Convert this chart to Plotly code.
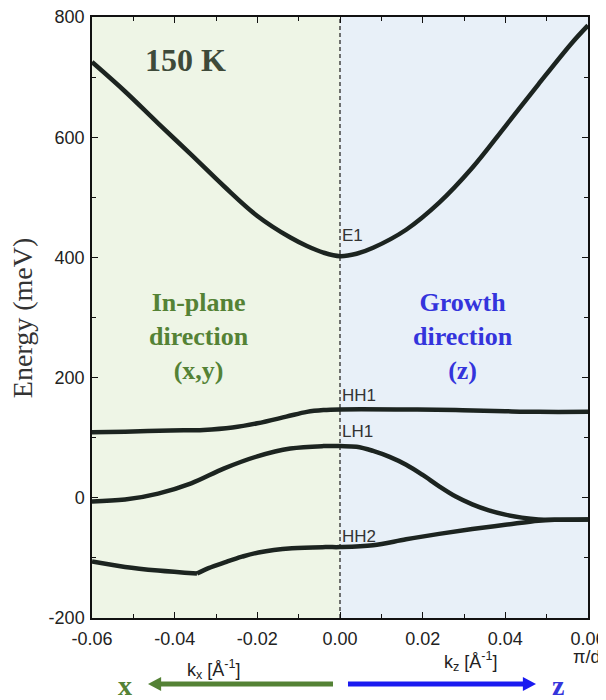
import plotly.graph_objects as go

# ---- data ----
E1_k = [-0.060, -0.052, -0.044, -0.036, -0.028, -0.020, -0.012, -0.008, -0.004, 0.0,
        0.004, 0.008, 0.016, 0.024, 0.032, 0.040, 0.048, 0.056, 0.060]
E1_E = [725, 676, 623, 571, 518, 469, 433, 419, 408, 402,
        406, 416, 446, 491, 549, 618, 688, 756, 786]

HH1_k = [-0.060, -0.052, -0.041, -0.033, -0.026, -0.020, -0.013, -0.008, -0.004, 0.0,
         0.014, 0.028, 0.040, 0.048, 0.060]
HH1_E = [109, 110, 112, 113, 117, 124, 135, 143, 146, 147,
         147, 146, 144, 143, 143]

LH1_k = [-0.060, -0.052, -0.044, -0.036, -0.028, -0.020, -0.012, -0.004, 0.0,
         0.004, 0.008, 0.012, 0.016, 0.020, 0.024, 0.028, 0.032, 0.036, 0.040,
         0.044, 0.048, 0.052, 0.060]
LH1_E = [-6, -3, 7, 24, 49, 69, 82, 86, 86,
         85, 78, 68, 55, 38, 19, 2, -11, -21, -28,
         -33, -36, -36.5, -36]

HH2_k = [-0.060, -0.052, -0.044, -0.0346, -0.0318, -0.0277, -0.0237, -0.0197, -0.0116,
         -0.0035, 0.0, 0.008, 0.016, 0.024, 0.032, 0.040, 0.048, 0.052, 0.060]
HH2_E = [-106, -115, -121, -126, -117, -107, -98, -91, -84,
         -82, -82, -79, -69, -60, -52, -45, -38, -36.5, -36]

x_tickvals = [-0.06, -0.04, -0.02, 0.0, 0.02, 0.04, 0.06]
x_ticktext = ["-0.06", "-0.04", "-0.02", "0.00", "0.02", "0.04", "0.06"]
y_tickvals = [-200, 0, 200, 400, 600, 800]
y_ticktext = ["-200", "0", "200", "400", "600", "800"]

band_labels = [("E1", 436), ("HH1", 171), ("LH1", 110), ("HH2", -64)]

# ---- styles ----
LINE = "#1c2420"
GREEN = "#548235"
BLUE = "#3434dc"
SANS = "Liberation Sans, Arial, sans-serif"
SERIF = "Liberation Serif, Times New Roman, serif"

fig = go.Figure()

def add_band(k, e):
    fig.add_trace(go.Scatter(x=k, y=e, mode="lines",
                             line=dict(color=LINE, width=4.5, shape="spline", smoothing=1.0),
                             showlegend=False, hoverinfo="skip"))

add_band(E1_k, E1_E)
add_band(HH1_k, HH1_E)
add_band(LH1_k, LH1_E)
kink = HH2_E.index(min(HH2_E))
add_band(HH2_k[:kink + 1], HH2_E[:kink + 1])
add_band(HH2_k[kink:], HH2_E[kink:])

# empty trace that only creates the mirrored (top/right) frame axes
fig.add_trace(go.Scatter(x=[None], y=[None], xaxis="x2", yaxis="y2",
                         showlegend=False, hoverinfo="skip"))

shapes = [
    dict(type="rect", xref="x", yref="paper", x0=-0.06, x1=0.0, y0=0, y1=1,
         fillcolor="#eef5e6", line=dict(width=0), layer="below"),
    dict(type="rect", xref="x", yref="paper", x0=0.0, x1=0.06, y0=0, y1=1,
         fillcolor="#e8f0f8", line=dict(width=0), layer="below"),
    dict(type="line", xref="x", yref="paper", x0=0, x1=0, y0=0, y1=1,
         line=dict(color="#444444", width=1.5, dash="4px,3px"), layer="below"),
]

# arrows below the axis (paper coordinates)
ya = -0.1098
hh = 0.0118
hl = 0.0265
shapes += [
    dict(type="line", xref="paper", yref="paper", x0=0.4859, x1=0.1129 + hl * 0.9, y0=ya, y1=ya,
         line=dict(color=GREEN, width=5)),
    dict(type="path", xref="paper", yref="paper",
         path=f"M {0.1129} {ya} L {0.1129 + hl} {ya + hh} L {0.1129 + hl} {ya - hh} Z",
         fillcolor=GREEN, line=dict(width=0)),
    dict(type="line", xref="paper", yref="paper", x0=0.5161, x1=0.8952 - hl * 0.9, y0=ya, y1=ya,
         line=dict(color="#1a1af0", width=5)),
    dict(type="path", xref="paper", yref="paper",
         path=f"M {0.8952} {ya} L {0.8952 - hl} {ya + hh} L {0.8952 - hl} {ya - hh} Z",
         fillcolor="#1a1af0", line=dict(width=0)),
]

ann = []
for name, e in band_labels:
    ann.append(dict(x=0.0001, y=e, xref="x", yref="y", text=name, showarrow=False,
                    xanchor="left", yanchor="middle",
                    font=dict(family=SANS, size=17, color="#333333")))

def centered(**kw):
    d = dict(showarrow=False, xanchor="center", yanchor="middle")
    d.update(kw)
    return d

ann += [
    centered(x=-0.0373, y=728, xref="x", yref="y", text="<b>150 K</b>",
             font=dict(family=SERIF, size=32, color="#3e4a3a")),
    centered(x=-0.0341, y=269, xref="x", yref="y", text="<b>In-plane<br>direction<br>(x,y)</b>",
             font=dict(family=SERIF, size=26, color=GREEN)),
    centered(x=0.0298, y=269, xref="x", yref="y", text="<b>Growth<br>direction<br>(z)</b>",
             font=dict(family=SERIF, size=26, color=BLUE)),
    centered(x=-0.141, y=0.499, xref="paper", yref="paper", text="Energy (meV)", textangle=-90,
             font=dict(family=SERIF, size=28, color="#333333")),
    centered(x=0.997, y=-0.065, xref="paper", yref="paper", text="π/d",
             font=dict(family=SANS, size=18, color="#222222")),
    centered(x=0.246, y=-0.0865, xref="paper", yref="paper",
             text="k<sub>x</sub> [Å<sup>-1</sup>]",
             font=dict(family=SANS, size=18, color="#222222")),
    centered(x=0.764, y=-0.0732, xref="paper", yref="paper",
             text="k<sub>z</sub> [Å<sup>-1</sup>]",
             font=dict(family=SANS, size=18, color="#222222")),
    centered(x=0.0665, y=-0.1115, xref="paper", yref="paper", text="<b>x</b>",
             font=dict(family=SERIF, size=28, color=GREEN)),
    centered(x=0.9395, y=-0.1115, xref="paper", yref="paper", text="<b>z</b>",
             font=dict(family=SERIF, size=28, color=BLUE)),
]

axis_common = dict(showline=True, linecolor="#111111", linewidth=1.5, mirror=False,
                   ticks="inside", ticklen=6, tickwidth=1.3, tickcolor="#111111",
                   showgrid=False, zeroline=False, automargin=False,
                   ticklabeloverflow="allow",
                   tickfont=dict(family=SANS, size=18, color="#222222"))

x_minor = dict(tick0=0, dtick=0.01, ticks="inside", ticklen=4, tickwidth=1.2, tickcolor="#111111")
y_minor = dict(tick0=0, dtick=100, ticks="inside", ticklen=4, tickwidth=1.2, tickcolor="#111111")

# page body has an 8px default margin; the figure is sized/offset to compensate
fig.update_layout(
    width=598, height=692,
    margin=dict(l=84, r=18, t=9, b=82),
    paper_bgcolor="white", plot_bgcolor="white",
    shapes=shapes, annotations=ann,
    xaxis=dict(range=[-0.06, 0.06], tickmode="array", tickvals=x_tickvals, ticktext=x_ticktext,
               minor=x_minor, ticklabelstandoff=4, **axis_common),
    yaxis=dict(range=[-200, 800], tickmode="array", tickvals=y_tickvals, ticktext=y_ticktext,
               minor=y_minor, ticklabelstandoff=2, **axis_common),
    xaxis2=dict(range=[-0.06, 0.06], overlaying="x", side="top", anchor="y2",
                tickmode="array", tickvals=x_tickvals, showticklabels=False,
                minor=x_minor, **axis_common),
    yaxis2=dict(range=[-200, 800], overlaying="y", side="right", anchor="x2",
                tickmode="array", tickvals=y_tickvals, showticklabels=False,
                minor=y_minor, **axis_common),
)

fig.write_html("out.html")
